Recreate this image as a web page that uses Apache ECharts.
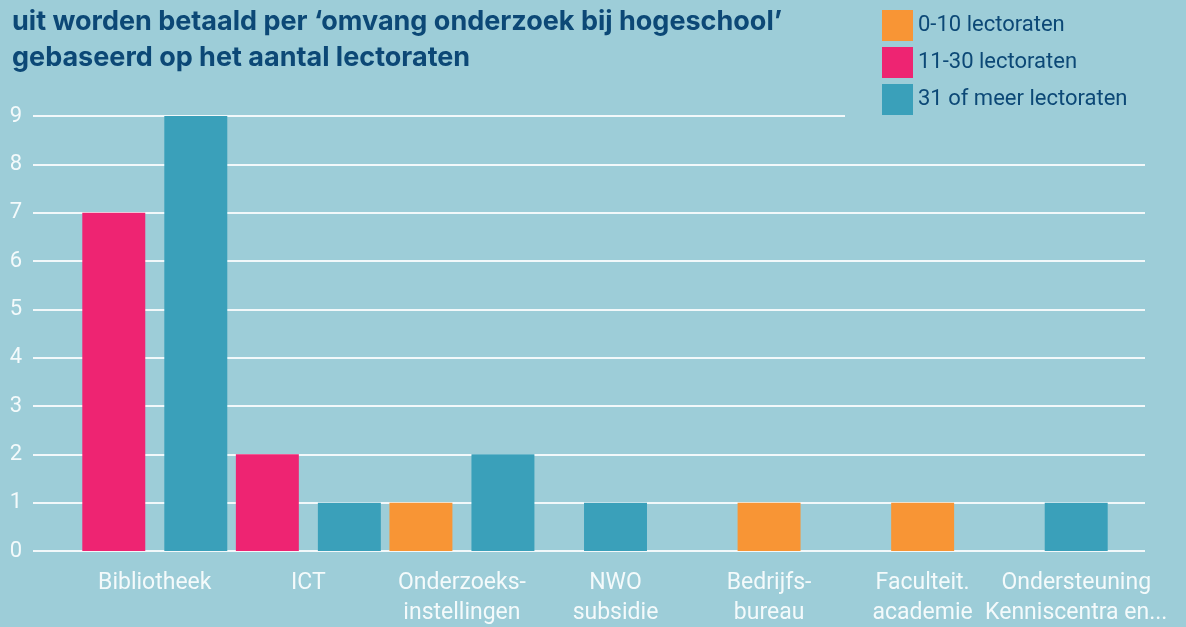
<!DOCTYPE html>
<html><head><meta charset="utf-8">
<script src="https://cdn.jsdelivr.net/npm/echarts@6/dist/echarts.min.js"></script>
<style>html,body{margin:0;padding:0;background:#9dcdd8;}#c{width:1186px;height:627px;}</style>
</head><body><div id="c"></div>
<script>
const titleLines = ["uit worden betaald per ‘omvang onderzoek bij hogeschool’", "gebaseerd op het aantal lectoraten"];
const categories = ["Bibliotheek", "ICT", "Onderzoeks-\ninstellingen", "NWO\nsubsidie", "Bedrijfs-\nbureau", "Faculteit.\nacademie", "Ondersteuning\nKenniscentra en..."];
const seriesNames = ["0-10 lectoraten", "11-30 lectoraten", "31 of meer lectoraten"];
const orangeValues = [null, null, 1, null, 1, 1, null];
const pinkValues = [7, 2, null, null, null, null, null];
const tealValues = [9, 1, 2, 1, null, null, 1];
const yTicks = [0, 1, 2, 3, 4, 5, 6, 7, 8, 9];

const colors = ["#f89535", "#ee2472", "#3aa0ba"];
const allValues = [orangeValues, pinkValues, tealValues];
const BG = "#9dcdd8";
const BAR_FRAC = 0.41, PITCH_FRAC = 0.534;

function makeSeries(si) {
  return {
    type: 'custom', name: seriesNames[si], xAxisIndex: 1, yAxisIndex: 1,
    itemStyle: { color: colors[si] },
    data: allValues[si].map((v, i) => [i, v == null ? 0 : v]),
    renderItem: function (params, api) {
      const ci = api.value(0);
      const v = allValues[si][ci];
      if (v == null) return null;
      const present = [];
      for (let k = 0; k < allValues.length; k++) if (allValues[k][ci] != null) present.push(k);
      const n = present.length, idx = present.indexOf(si);
      const band = api.size([1, 0])[0];
      const center = api.coord([ci, 0]);
      const top = api.coord([ci, v]);
      const w = band * BAR_FRAC, pitch = band * PITCH_FRAC;
      const cx = center[0] + (idx - (n - 1) / 2) * pitch;
      return { type: 'rect', shape: { x: cx - w / 2, y: top[1], width: w, height: center[1] - top[1] },
        style: { fill: colors[si] } };
    }
  };
}

const chart = echarts.init(document.getElementById('c'), null, { renderer: 'canvas' });
chart.setOption({
  backgroundColor: BG,
  animation: false,
  color: colors,
  title: {
    text: titleLines.join('\n'), left: 12, top: 4, padding: 0,
    textStyle: { fontFamily: 'Inter', fontWeight: 'bold', fontSize: 27, lineHeight: 36, color: '#0c4876' }
  },
  legend: {
    orient: 'vertical', left: 845, top: 0, padding: [10, 40, 8, 37],
    backgroundColor: BG, itemWidth: 31, itemHeight: 31, itemGap: 6, z: 10,
    icon: 'rect',
    textStyle: { fontFamily: 'Roboto', fontSize: 22, color: '#0c4876' },
    data: seriesNames
  },
  grid: [
    { left: 33, right: 41, top: 116, bottom: 76, outerBoundsMode: 'none' },
    { left: 78, right: 33, top: 116, bottom: 76, outerBoundsMode: 'none' }
  ],
  xAxis: [
    { type: 'category', gridIndex: 0, data: categories, show: false },
    { type: 'category', gridIndex: 1, data: categories,
      axisLine: { show: false }, axisTick: { show: false },
      axisLabel: { color: '#f4fafb', fontFamily: 'Roboto', fontSize: 23, lineHeight: 30, margin: 17, interval: 0, verticalAlign: 'top', hideOverlap: false } }
  ],
  yAxis: [
    { type: 'value', gridIndex: 0, min: 0, max: 9, interval: 1,
      axisLine: { show: false }, axisTick: { show: false },
      splitLine: { lineStyle: { color: '#f2f8fa', width: 2 } },
      axisLabel: { color: '#f4fafb', fontFamily: 'Roboto', fontSize: 22, margin: 11, align: 'right',
        formatter: (v) => yTicks.includes(v) ? String(v) : '' } },
    { type: 'value', gridIndex: 1, min: 0, max: 9, interval: 1, show: false, splitLine: { show: false } }
  ],
  series: [makeSeries(0), makeSeries(1), makeSeries(2)]
});
</script></body></html>
